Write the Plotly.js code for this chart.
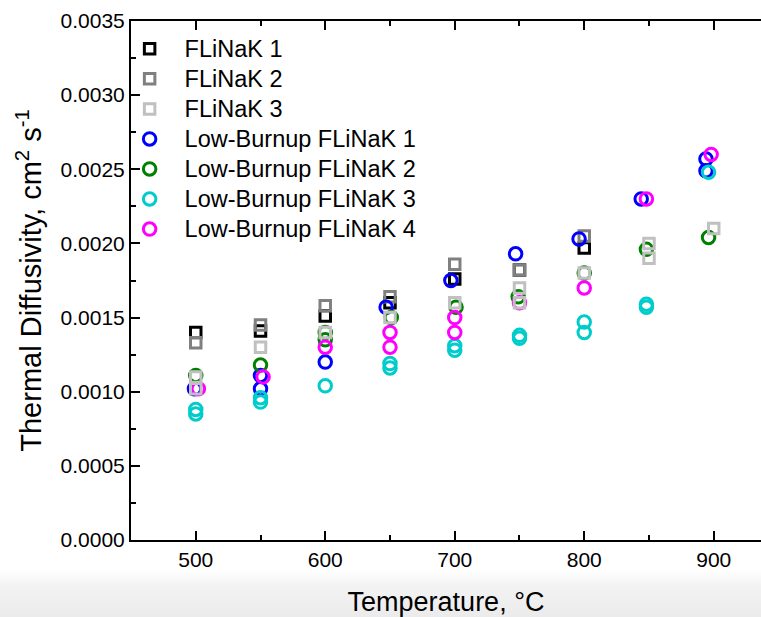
<!DOCTYPE html>
<html>
<head>
<meta charset="utf-8">
<script src="https://cdn.plot.ly/plotly-3.0.1.min.js"></script>
<style>
  html, body { margin: 0; padding: 0; }
  body {
    width: 761px; height: 617px; overflow: hidden;
    background: linear-gradient(to bottom, #ffffff 0px, #ffffff 570px, #f3f3f3 585px, #ebebeb 617px);
  }
  #chart { width: 761px; height: 617px; }
</style>
</head>
<body>
<div id="chart"></div>
<script>
// ---- Data ----
const seriesNames = ["FLiNaK 1", "FLiNaK 2", "FLiNaK 3",
  "Low-Burnup FLiNaK 1", "Low-Burnup FLiNaK 2", "Low-Burnup FLiNaK 3", "Low-Burnup FLiNaK 4"];

const flinak1T = [500, 550, 600, 650, 700, 750, 800];
const flinak1D = [0.00140, 0.00141, 0.00151, 0.00160, 0.00176, 0.00182, 0.00197];

const flinak2T = [500, 550, 600, 650, 700, 750, 800];
const flinak2D = [0.00133, 0.00145, 0.00158, 0.00164, 0.00186, 0.00182, 0.00205];

const flinak3T = [500, 500, 550, 600, 650, 700, 750, 750, 800, 850, 850, 900];
const flinak3D = [0.00110, 0.00102, 0.00130, 0.00140, 0.00150, 0.00160, 0.00170, 0.00160, 0.00180, 0.00200, 0.00190, 0.00210];

const lb1T = [499, 550, 550, 600, 647, 697, 747, 796, 844, 894, 894];
const lb1D = [0.00102, 0.00111, 0.00102, 0.00120, 0.00157, 0.00175, 0.00193, 0.00203, 0.00230, 0.00257, 0.00249];

const lb2T = [500, 550, 600, 600, 651, 701, 749, 800, 848, 896];
const lb2D = [0.00111, 0.00118, 0.00140, 0.00135, 0.00150, 0.00157, 0.00164, 0.00180, 0.00196, 0.00204];

const lb3T = [500, 500, 550, 550, 600, 650, 650, 700, 700, 750, 750, 800, 800, 848, 848, 896];
const lb3D = [0.00088, 0.00085, 0.00096, 0.00093, 0.00104, 0.00119, 0.00116, 0.00131, 0.00128, 0.00138, 0.00136, 0.00147, 0.00140, 0.00159, 0.00157, 0.00248];

const lb4T = [502, 552, 600, 650, 650, 700, 700, 750, 800, 848, 898];
const lb4D = [0.00102, 0.00110, 0.00130, 0.00140, 0.00130, 0.00150, 0.00140, 0.00160, 0.00170, 0.00230, 0.00260];

const xTickVals = [500, 600, 700, 800, 900];
const yTickVals = [0, 0.0005, 0.0010, 0.0015, 0.0020, 0.0025, 0.0030, 0.0035];
const yTickText = ["0.0000", "0.0005", "0.0010", "0.0015", "0.0020", "0.0025", "0.0030", "0.0035"];

// ---- Styling ----
const FONT = "Arial, 'Liberation Sans', sans-serif";
const legendLabel = (s) => '<span style="font-size:23.5px">' + s + '</span>';
function sq(name, x, y, color, rank) {
  return { type: "scatter", mode: "markers", name: legendLabel(name), x: x, y: y, legendrank: rank,
    marker: { symbol: "square-open", size: 10.5, color: color, line: { color: color, width: 3 } },
    hoverinfo: "x+y" };
}
function ci(name, x, y, color, rank) {
  return { type: "scatter", mode: "markers", name: legendLabel(name), x: x, y: y, legendrank: rank,
    marker: { symbol: "circle-open", size: 12.5, color: color, line: { color: color, width: 3 } },
    hoverinfo: "x+y" };
}

// drawing order (later on top); legend order via legendrank
const traces = [
  sq(seriesNames[0], flinak1T, flinak1D, "#000000", 1),
  sq(seriesNames[1], flinak2T, flinak2D, "#808080", 2),
  ci(seriesNames[3], lb1T, lb1D, "#0000ff", 4),
  ci(seriesNames[4], lb2T, lb2D, "#008000", 5),
  ci(seriesNames[5], lb3T, lb3D, "#00cccc", 6),
  ci(seriesNames[6], lb4T, lb4D, "#ff00ff", 7),
  sq(seriesNames[2], flinak3T, flinak3D, "#c0c0c0", 3)
];

const layout = {
  width: 761, height: 617,
  margin: { l: 131, r: 0, t: 21, b: 77, pad: 0 },
  paper_bgcolor: "rgba(0,0,0,0)",
  plot_bgcolor: "#ffffff",
  font: { family: FONT, color: "#000000", size: 21 },
  showlegend: true,
  legend: {
    x: -0.026, xanchor: "left", y: 0.985, yanchor: "top",
    bgcolor: "rgba(0,0,0,0)", borderwidth: 0,
    font: { family: FONT, size: 20.8, color: "#000000" },
    itemwidth: 60, traceorder: "normal"
  },
  xaxis: {
    range: [450, 936.5],
    tickmode: "array", tickvals: xTickVals,
    ticks: "inside", ticklen: 9, tickwidth: 2, tickcolor: "#000000",
    minor: { dtick: 50, tick0: 0, ticks: "inside", ticklen: 5, tickwidth: 2, tickcolor: "#000000" },
    showline: true, linewidth: 2, linecolor: "#000000", mirror: "ticks",
    showgrid: false, zeroline: false,
    tickfont: { family: FONT, size: 21 },
    title: { text: "Temperature, °C", font: { family: FONT, size: 27 }, standoff: 27 }
  },
  yaxis: {
    range: [0, 0.0035],
    tickmode: "array", tickvals: yTickVals, ticktext: yTickText,
    ticks: "inside", ticklen: 9, tickwidth: 2, tickcolor: "#000000",
    minor: { dtick: 0.00025, tick0: 0, ticks: "inside", ticklen: 5, tickwidth: 2, tickcolor: "#000000" },
    showline: true, linewidth: 2, linecolor: "#000000", mirror: false,
    showgrid: false, zeroline: false,
    tickfont: { family: FONT, size: 21 },
    title: { text: "Thermal Diffusivity, cm<sup>2</sup> s<sup>-1</sup>", font: { family: FONT, size: 29 }, standoff: 10 }
  }
};

Plotly.newPlot("chart", traces, layout, { displayModeBar: false, staticPlot: true });
</script>
</body>
</html>
